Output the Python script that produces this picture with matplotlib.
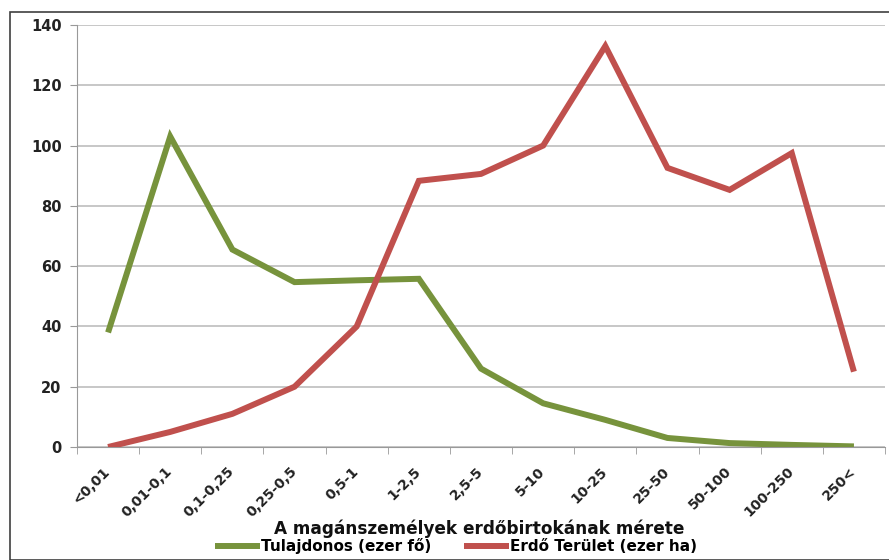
import matplotlib
matplotlib.use("Agg")
import matplotlib.pyplot as plt
from matplotlib.patches import Rectangle
import numpy as np

categories = ["<0,01", "0,01-0,1", "0,1-0,25", "0,25-0,5", "0,5-1", "1-2,5", "2,5-5",
              "5-10", "10-25", "25-50", "50-100", "100-250", "250<"]
tulajdonos = [38, 103, 65.5, 54.7, 55.3, 55.8, 26, 14.5, 9, 3, 1.3, 0.7, 0.2]
erdo_terulet = [0, 5, 11, 20, 40, 88.3, 90.6, 100, 133, 92.6, 85.3, 97.5, 25]
yticks = [0, 20, 40, 60, 80, 100, 120, 140]

plt.rcParams['font.family'] = ['DejaVu Sans']

fig = plt.figure(figsize=(8.89, 5.60), dpi=100)
fig.patches.append(Rectangle((10/889, 0), 1.0, 1 - 12/560, transform=fig.transFigure,
                             fill=False, edgecolor='#404040', linewidth=1.2))
ax = fig.add_axes([77/889, 113/560, (885-77)/889, (447-25)/560])

x = np.arange(len(categories))
ax.plot(x, tulajdonos, color='#77933C', linewidth=4.3, solid_joinstyle='miter',
        solid_capstyle='butt', label='Tulajdonos (ezer fő)', zorder=3)
ax.plot(x, erdo_terulet, color='#C0504D', linewidth=4.3, solid_joinstyle='miter',
        solid_capstyle='butt', label='Erdő Terület (ezer ha)', zorder=3)

ax.set_xlim(-0.5, len(categories) - 0.5)
ax.set_ylim(0, 140)
ax.set_yticks(yticks)
ax.set_yticklabels([str(v) for v in yticks], fontsize=10.5, fontweight='bold', color='#222222')
ax.yaxis.grid(True, color='#bdbdbd', linewidth=1.2)
ax.set_axisbelow(True)

ax.set_xticks(x)
ax.set_xticklabels(categories, rotation=45, ha='right', va='center', rotation_mode='anchor',
                   fontsize=10, fontweight='bold', color='#222222')
ax.tick_params(axis='x', length=0, pad=16)
ax.set_xticks(np.arange(-0.5, len(categories)), minor=True)
ax.tick_params(axis='x', which='minor', length=5, color='#999999')
ax.tick_params(axis='y', length=5, color='#999999', pad=6)

for s in ['top', 'right']:
    ax.spines[s].set_visible(False)
ax.spines['left'].set_color('#999999')
ax.spines['bottom'].set_color('#999999')

fig.text(479/889, 1 - 529/560, "A magánszemélyek erdőbirtokának mérete", ha='center', va='center',
         fontsize=12.2, fontweight='bold', color='#111111')
fig.legend(loc='center', bbox_to_anchor=(456/889, 1 - 546/560), ncol=2, frameon=False,
           handlelength=2.9, handletextpad=0.05, columnspacing=2.2,
           prop={'weight': 'bold', 'size': 11})

fig.savefig('out.png', dpi=100, facecolor='white')
